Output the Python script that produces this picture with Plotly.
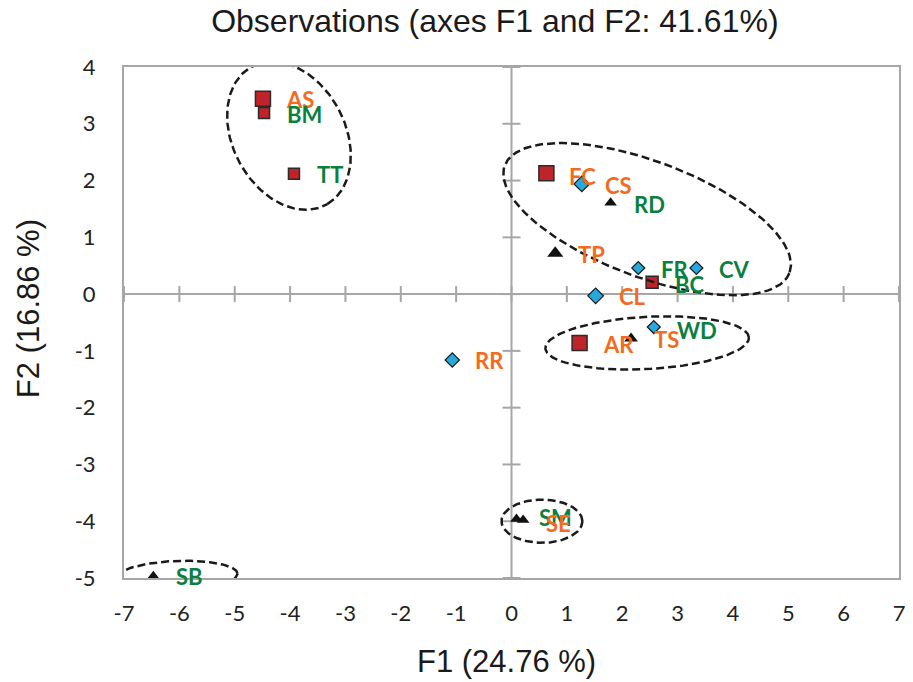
import numpy as np
import plotly.graph_objects as go

# ---------------- data ----------------
sq_names = ["AS", "BM", "TT", "FC", "BC", "AR"]
sq_x = [-4.49, -4.47, -3.93, 0.63, 2.54, 1.23]
sq_y = [3.44, 3.19, 2.12, 2.13, 0.21, -0.86]

dm_names = ["CS", "FR", "CV", "CL", "WD", "RR"]
dm_x = [1.27, 2.29, 3.34, 1.52, 2.57, -1.07]
dm_y = [1.94, 0.46, 0.46, -0.03, -0.58, -1.16]

tr_names = ["RD", "TP", "TS", "SM", "SE", "SB"]
tr_x = [1.79, 0.79, 2.16, 0.09, 0.21, -6.47]
tr_y = [1.61, 0.72, -0.78, -3.96, -3.98, -4.96]

orange_labels = ["AS", "FC", "CS", "TP", "CL", "AR", "TS", "RR", "SE"]

x_ticks = list(range(-7, 8))
y_ticks = list(range(-5, 5))

# ellipses: center x, center y, semi-major, semi-minor, angle (deg)
ell_cx = [-4.02, 2.45, 2.45, 0.55, -6.04]
ell_cy = [2.79, 1.32, -0.86, -4.00, -4.96]
ell_a = [1.39, 2.74, 1.84, 0.73, 1.09]
ell_b = [1.01, 1.02, 0.46, 0.38, 0.26]
ell_ang = [-60, -20, 3, 0, 2]

# ---------------- styles ----------------
sq_size = [15, 11, 11, 15, 12, 15]
dm_size = [12, 10, 10, 12, 10, 11]
tr_size = [11, 14, 12, 11, 11, 10]
ORANGE = "#F26B21"
GREEN = "#0B7F3D"
AXIS = "#A6A6A6"
TXT = "#1a1a1a"
BIG_FONT = "Liberation Sans"
SMALL_FONT = "Lato"

fig = go.Figure()

fig.add_trace(go.Scatter(
    x=sq_x, y=sq_y, mode="markers", hoverinfo="text", text=sq_names,
    marker=dict(symbol="square", size=sq_size, color="#C1232B", opacity=1,
                line=dict(color="#2b2b2b", width=1.5)),
    showlegend=False))
fig.add_trace(go.Scatter(
    x=dm_x, y=dm_y, mode="markers", hoverinfo="text", text=dm_names,
    marker=dict(symbol="diamond", size=dm_size, color="#29A8E0", opacity=1,
                line=dict(color="#1a1a1a", width=1.2)),
    showlegend=False))
fig.add_trace(go.Scatter(
    x=tr_x, y=tr_y, mode="markers", hoverinfo="text", text=tr_names,
    marker=dict(symbol="triangle-up", size=tr_size, color="#111111", opacity=1,
                line=dict(width=0)),
    showlegend=False))

# labels
label_yshift = {"BM": -2, "SE": -3, "SM": 1, "FC": -3, "CS": -2, "RD": -2,
                "FR": -2, "CV": -2, "BC": -2, "AR": -2, "TS": -1, "WD": -3}
for names, xs, ys in [(sq_names, sq_x, sq_y), (dm_names, dm_x, dm_y),
                      (tr_names, tr_x, tr_y)]:
    for n, xv, yv in zip(names, xs, ys):
        fig.add_annotation(
            x=xv, y=yv, text="<b>%s</b>" % n, showarrow=False,
            xanchor="left", yanchor="middle", xshift=21,
            yshift=label_yshift.get(n, -1),
            font=dict(family=SMALL_FONT, size=22,
                      color=ORANGE if n in orange_labels else GREEN))

# axis titles
fig.add_annotation(text="F1 (24.76 %)", xref="paper", yref="paper",
                   x=0.494, y=-0.164, showarrow=False, xanchor="center",
                   yanchor="middle", font=dict(family=BIG_FONT, size=31, color=TXT))
fig.add_annotation(text="F2 (16.86 %)", xref="paper", yref="paper",
                   x=0, xshift=-96, y=0.526, showarrow=False, textangle=-90,
                   xanchor="center", yanchor="middle",
                   font=dict(family=BIG_FONT, size=31, color=TXT))

shapes = []
# center axes
shapes.append(dict(type="line", xref="x", yref="y", x0=-7, x1=7, y0=0, y1=0,
                   line=dict(color=AXIS, width=2), layer="below"))
shapes.append(dict(type="line", xref="x", yref="y", x0=0, x1=0, y0=-5, y1=4,
                   line=dict(color=AXIS, width=2), layer="below"))
for t in x_ticks:
    shapes.append(dict(type="line", xref="x", yref="y", ysizemode="pixel",
                       yanchor=0, x0=t, x1=t, y0=-8, y1=8,
                       line=dict(color=AXIS, width=2), layer="below"))
for t in y_ticks:
    shapes.append(dict(type="line", xref="x", yref="y", xsizemode="pixel",
                       xanchor=0, y0=t, y1=t, x0=-9, x1=9,
                       line=dict(color=AXIS, width=2), layer="below"))

# ellipses
th = np.linspace(0, 2 * np.pi, 160)
for cx, cy, a, b, ang in zip(ell_cx, ell_cy, ell_a, ell_b, ell_ang):
    r = np.deg2rad(ang)
    ex = cx + a * np.cos(th) * np.cos(r) - b * np.sin(th) * np.sin(r)
    ey = cy + a * np.cos(th) * np.sin(r) + b * np.sin(th) * np.cos(r)
    fig.add_trace(go.Scatter(x=ex, y=ey, mode="lines", hoverinfo="skip",
                             line=dict(color="#1a1a1a", width=2.5, dash="8px,4px"),
                             showlegend=False))

tickfont = dict(family=SMALL_FONT, size=22, color="#222222")
fig.update_layout(
    width=913, height=682,
    margin=dict(l=124, r=8, t=67, b=104),
    paper_bgcolor="white", plot_bgcolor="white",
    shapes=shapes,
    title=dict(text="Observations (axes F1 and F2: 41.61%)",
               x=0.542, xref="container", xanchor="center",
               y=1 - 21 / 682, yref="container", yanchor="middle",
               font=dict(family=BIG_FONT, size=32, color=TXT)),
    xaxis=dict(range=[-7, 7], tickvals=x_ticks, ticktext=[str(v) for v in x_ticks],
               showgrid=False, zeroline=False, showline=True, mirror=True,
               linecolor=AXIS, linewidth=2, ticks="outside", ticklen=15,
               tickcolor="rgba(0,0,0,0)", tickfont=tickfont),
    yaxis=dict(range=[-5, 4], tickvals=y_ticks, ticktext=[str(v) for v in y_ticks],
               showgrid=False, zeroline=False, showline=True, mirror=True,
               linecolor=AXIS, linewidth=2, ticks="outside", ticklen=22,
               tickcolor="rgba(0,0,0,0)", tickfont=tickfont),
)

fig.write_html("out.html")
